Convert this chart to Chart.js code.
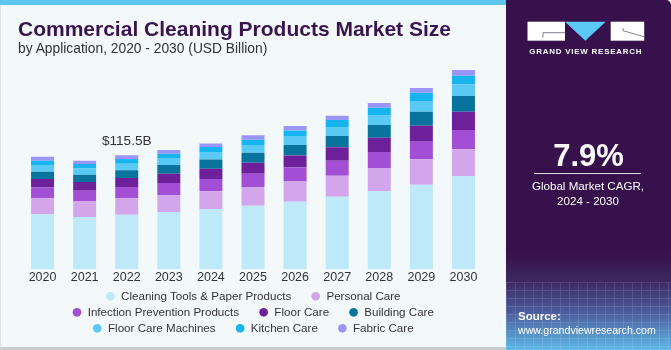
<!DOCTYPE html>
<html><head><meta charset="utf-8">
<script src="https://cdn.jsdelivr.net/npm/chart.js@4.4.1/dist/chart.umd.min.js"></script>
<style>
html,body{margin:0;padding:0;}
body{width:671px;height:350px;position:relative;overflow:hidden;background:#F3F8FB;font-family:"Liberation Sans",Arial,sans-serif;}
#left{position:absolute;left:0;top:0;width:506px;height:350px;background:#F3F8FB;border-left:1px solid #DDE2E6;box-sizing:border-box;}
#stripe{position:absolute;left:0;top:0;width:506px;height:5px;background:#5BC5EE;}
#bottomline{position:absolute;left:0;top:347px;width:506px;height:3px;background:#CBCED1;}
#panel{position:absolute;left:506px;top:0;width:165px;height:350px;border-top-right-radius:5px;overflow:hidden;
 background:linear-gradient(to bottom,#37114B 0%,#37114B 72%,#3C2661 80%,#4B5A9A 89%,#5EB9E7 100%);}
#grid{position:absolute;left:0;top:282px;width:165px;height:68px;opacity:0.12;
 background-image:repeating-linear-gradient(to right,rgba(255,255,255,0.9) 0 1px,transparent 1px 9px),repeating-linear-gradient(to bottom,rgba(255,255,255,0.9) 0 1px,transparent 1px 8px);}
#wrap{position:absolute;left:0;top:0;width:505px;height:350px;}
#ov{position:absolute;left:0;top:0;width:671px;height:350px;pointer-events:none;}
</style>
</head><body>
<div id="left"></div>
<div id="stripe"></div>
<div id="bottomline"></div>
<div id="panel"><div id="grid"></div></div>
<div id="wrap"><canvas id="c" width="505" height="350"></canvas></div>
<svg id="ov" width="671" height="350" xmlns="http://www.w3.org/2000/svg" font-family="Liberation Sans, Arial, sans-serif">
  <text x="18" y="35.5" font-size="21" font-weight="bold" fill="#3A1351">Commercial Cleaning Products Market Size</text>
  <text x="18" y="52.8" font-size="13.8" fill="#333333">by Application, 2020 - 2030 (USD Billion)</text>
  <!-- logo -->
  <rect x="527.5" y="21.7" width="37.5" height="19" fill="#FFFFFF"/>
  <polyline points="543,37.5 543,32.7 565,32.7" fill="none" stroke="#6B5A78" stroke-width="0.8"/>
  <polygon points="565,21.7 605.7,21.7 585.3,40.7" fill="#5BC8F5"/>
  <rect x="610.7" y="21.7" width="33.5" height="19" fill="#FFFFFF"/>
  <polyline points="623,28 623,30.7 644,36.7" fill="none" stroke="#6B5A78" stroke-width="0.8"/>
  <text x="585.8" y="54.4" font-size="7.9" font-weight="bold" fill="#FFFFFF" text-anchor="middle" letter-spacing="0.8">GRAND VIEW RESEARCH</text>
  <text x="588.5" y="166" font-size="31" font-weight="bold" fill="#FFFFFF" text-anchor="middle">7.9%</text>
  <line x1="534" y1="173.5" x2="641" y2="173.5" stroke="#FFFFFF" stroke-width="1" opacity="0.85"/>
  <text x="588" y="190" font-size="11.6" fill="#FFFFFF" text-anchor="middle">Global Market CAGR,</text>
  <text x="588" y="205" font-size="11.6" fill="#FFFFFF" text-anchor="middle">2024 - 2030</text>
  <text x="518" y="320" font-size="11.5" font-weight="bold" fill="#FFFFFF">Source:</text>
  <text x="518" y="333.5" font-size="10.6" fill="#FFFFFF">www.grandviewresearch.com</text>
</svg>
<script>
const years = ['2020','2021','2022','2023','2024','2025','2026','2027','2028','2029','2030'];
const cleaningTools = [55.7, 53.0, 55.3, 58.0, 61.1, 64.4, 68.5, 73.5, 79.3, 85.7, 94.5];
const personalCare = [16.2, 16.2, 16.6, 17.2, 17.9, 18.9, 20.3, 21.3, 23.3, 25.7, 27.0];
const infectionPrevention = [11.1, 10.4, 11.4, 12.2, 12.5, 13.5, 14.6, 15.2, 16.2, 17.8, 19.6];
const floorCare = [8.4, 8.8, 9.1, 9.4, 10.4, 11.1, 11.8, 13.6, 14.5, 16.2, 18.5];
const buildingCare = [7.4, 7.4, 7.8, 8.8, 9.4, 10.1, 10.8, 11.4, 12.9, 14.2, 15.9];
const floorCareMachines = [6.8, 6.4, 6.7, 7.1, 7.4, 7.8, 9.1, 9.1, 10.1, 10.8, 11.9];
const kitchenCare = [4.4, 4.4, 4.8, 4.4, 5.1, 5.4, 5.4, 7.1, 7.4, 8.4, 8.7];
const fabricCare = [4.1, 3.3, 3.8, 3.7, 3.7, 4.5, 4.5, 4.4, 4.8, 4.8, 5.8];
const seriesNames = ['Cleaning Tools & Paper Products','Personal Care','Infection Prevention Products','Floor Care','Building Care','Floor Care Machines','Kitchen Care','Fabric Care'];
const seriesValues = [cleaningTools, personalCare, infectionPrevention, floorCare, buildingCare, floorCareMachines, kitchenCare, fabricCare];
const seriesColors = ['#BDE9F9','#D3A6EB','#A24FD5','#6D209A','#08749E','#5ACAF5','#16B5EF','#9C95F8'];
const annotatedIndex = 2;
const annotationText = '$115.5B';

const datasets = seriesNames.map((n, i) => ({
  label: n, data: seriesValues[i], backgroundColor: seriesColors[i],
  borderWidth: 0, barPercentage: 0.546, categoryPercentage: 1.0
}));

const rowEnds = [1, 4, 7];
const annotationPlugin = {
  id: 'annot',
  afterDatasetsDraw(chart) {
    const x = chart.scales.x.getPixelForValue(annotatedIndex);
    let total = 0;
    seriesValues.forEach(s => total += s[annotatedIndex]);
    const y = chart.scales.y.getPixelForValue(total);
    const ctx = chart.ctx;
    ctx.save();
    ctx.font = '13.6px "Liberation Sans", Arial, sans-serif';
    ctx.fillStyle = '#333333';
    ctx.textAlign = 'center';
    ctx.textBaseline = 'middle';
    ctx.fillText(annotationText, x, y - 14);
    ctx.restore();
  }
};

new Chart(document.getElementById('c'), {
  type: 'bar',
  data: { labels: years, datasets },
  plugins: [annotationPlugin],
  options: {
    responsive: false, animation: false,
    layout: { padding: { left: 21.5, right: 20.5, top: 57, bottom: 5.9 } },
    scales: {
      x: { stacked: true, grid: { display: false, drawTicks: false }, border: { display: false },
           ticks: { color: '#333333', padding: 0.9, font: { family: '"Liberation Sans", Arial, sans-serif', size: 12.5 } } },
      y: { stacked: true, display: false, min: 0, max: 215 }
    },
    plugins: {
      tooltip: { enabled: false },
      legend: {
        position: 'bottom',
        labels: {
          usePointStyle: true, pointStyle: 'circle', boxWidth: 9.8, boxHeight: 6.15, padding: 4.4,
          color: '#333333', font: { family: '"Liberation Sans", Arial, sans-serif', size: 11.6 },
          generateLabels(chart) {
            const items = Chart.defaults.plugins.legend.labels.generateLabels(chart);
            items.forEach((it, i) => {
              it.lineWidth = 0;
              it.strokeStyle = 'rgba(0,0,0,0)';
              if (!rowEnds.includes(i)) it.text = it.text + '    \u2009';
            });
            return items;
          }
        }
      }
    }
  }
});
</script>
</body></html>
